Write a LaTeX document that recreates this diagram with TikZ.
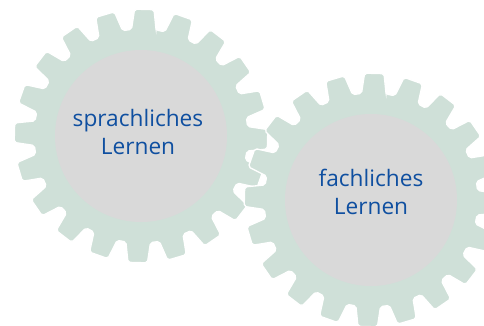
\documentclass[tikz,border=0pt]{standalone}
\usepackage{fontspec}
\setmainfont{Open Sans}
\definecolor{gearcol}{HTML}{CFE0D8}
\definecolor{hubcol}{HTML}{D9D9D9}
\definecolor{labelcol}{HTML}{0F4FA0}
\tikzset{
  gearbody/.style={fill=gearcol, draw=white, line width=1, rounded corners=1.5},
  gearhub/.style={fill=hubcol},
  gearlabel/.style={text=labelcol, align=center, font=\fontsize{17}{21}\selectfont},
}
\newcommand{\gearwheel}[2]{%
  \filldraw[gearbody, shift={(#1,#2)}] (88.5-6.6:107)
    \foreach \a in {88.5,106.5,...,430.5}{
      -- (\a-6.6:107) -- (\a-4.4:127) -- (\a+4.4:127) -- (\a+6.6:107)
    } -- cycle;
  \fill[gearhub] (#1,#2) circle (86);
}
\begin{document}
\begin{tikzpicture}[x=.75pt, y=.75pt]
\useasboundingbox (0,0) rectangle (484,-325);
\clip (0,0) rectangle (484,-325);
\gearwheel{141}{-136}
\gearwheel{371}{-200}
\node[gearlabel] (sprach) at (138,-132) {sprachliches\\Lernen};
\node[gearlabel] (fach) at (371,-192) {fachliches\\Lernen};
\end{tikzpicture}
\end{document}
